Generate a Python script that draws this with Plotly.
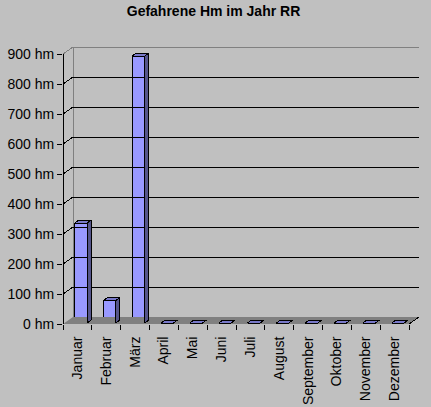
import plotly.graph_objects as go

# ---- data ----
months = ["Januar", "Februar", "März", "April", "Mai", "Juni", "Juli",
          "August", "September", "Oktober", "November", "Dezember"]
values = [333, 75, 890, 0, 0, 0, 0, 0, 0, 0, 0, 0]
y_ticks = [0, 100, 200, 300, 400, 500, 600, 700, 800, 900]
y_tick_labels = [f"{v} hm" for v in y_ticks]
title_text = "Gefahrene Hm im Jahr RR"

# ---- geometry (style) ----
PX_X = 12 / 346.0      # category units per pixel
PX_Y = 900 / 270.0     # hm per pixel
WALL_DX, WALL_DY = 10 * PX_X, 7 * PX_Y
BAR_W = 12.5 * PX_X
BAR_DX, BAR_DY = 4 * PX_X, 3 * PX_Y
BAR_XOFF = 3.4 * PX_X
BAR_BASE = 1 * PX_Y
YMAX = y_ticks[-1]
N = len(months)
XL, XR = -0.5, N - 0.5

FRONT = "#9999ff"
TOP = "#7878c8"
SIDE = "#55558a"
FLOOR = "#808080"
WALLLINE = "#808080"
BG = "#c0c0c0"
FONT = "Liberation Sans, Arial, sans-serif"

fig = go.Figure()

# floor
fig.add_trace(go.Scatter(
    x=[XL, XR, XR + WALL_DX, XL + WALL_DX, XL],
    y=[0, 0, WALL_DY, WALL_DY, 0],
    fill="toself", fillcolor=FLOOR, mode="lines", line=dict(width=0),
    hoverinfo="skip"))

# back wall border (gray) incl. top-left diagonal
bx, by = [], []
bx += [XL + WALL_DX, XL + WALL_DX, XR + WALL_DX, XR + WALL_DX, None]
by += [WALL_DY, YMAX + WALL_DY, YMAX + WALL_DY, WALL_DY, None]
bx += [XL, XL + WALL_DX, None]
by += [YMAX, YMAX + WALL_DY, None]
fig.add_trace(go.Scatter(x=bx, y=by, mode="lines",
                         line=dict(color=WALLLINE, width=1), hoverinfo="skip",
                         cliponaxis=False))

# gridlines on back wall + left-wall diagonals (black)
gx, gy = [], []
for v in y_ticks[1:-1]:
    gx += [XL, XL + WALL_DX, XR + WALL_DX, None]
    gy += [v, v + WALL_DY, v + WALL_DY, None]
fig.add_trace(go.Scatter(x=gx, y=gy, mode="lines",
                         line=dict(color="black", width=1), hoverinfo="skip",
                         cliponaxis=False))

# axis lines (black): y axis, x axis front edge, right floor diagonal
ax_x = [XL, XL, None, XL, XR, XR + WALL_DX]
ax_y = [YMAX, 0, None, 0, 0, WALL_DY]
fig.add_trace(go.Scatter(x=ax_x, y=ax_y, mode="lines",
                         line=dict(color="black", width=1), hoverinfo="skip",
                         cliponaxis=False))

# bars: front faces
bar_x = [i + BAR_XOFF for i in range(N)]
fig.add_trace(go.Bar(x=bar_x, y=values, base=BAR_BASE, width=BAR_W,
                     marker=dict(color=FRONT, line=dict(color="black", width=1)),
                     hoverinfo="skip"))

# side and top faces
sx, sy, tx, ty = [], [], [], []
for xc, v in zip(bar_x, values):
    x0, x1 = xc - BAR_W / 2, xc + BAR_W / 2
    top = BAR_BASE + v
    if v > 0:
        sx += [x1, x1, x1 + BAR_DX, x1 + BAR_DX, x1, None]
        sy += [BAR_BASE, top, top + BAR_DY, BAR_BASE + BAR_DY, BAR_BASE, None]
    tx += [x0, x1, x1 + BAR_DX, x0 + BAR_DX, x0, None]
    ty += [top, top, top + BAR_DY, top + BAR_DY, top, None]
fig.add_trace(go.Scatter(x=sx, y=sy, fill="toself", fillcolor=SIDE, mode="lines",
                         line=dict(color="black", width=1), hoverinfo="skip"))
fig.add_trace(go.Scatter(x=tx, y=ty, fill="toself", fillcolor=TOP, mode="lines",
                         line=dict(color="black", width=1), hoverinfo="skip"))

# dummy trace for label axis
fig.add_trace(go.Scatter(x=[0], y=[0], xaxis="x2", mode="markers",
                         marker=dict(opacity=0), hoverinfo="skip"))

xrange = [XL, XR + WALL_DX]
fig.update_layout(
    width=431, height=407,
    margin=dict(l=63, r=12, t=47, b=83, autoexpand=False),
    paper_bgcolor=BG, plot_bgcolor=BG,
    showlegend=False,
    barmode="overlay",
    hovermode=False,
    font=dict(family=FONT, size=14, color="black"),
    title=dict(text="<b>" + title_text + "</b>", x=213.5 / 431, xref="container",
               xanchor="center", y=1 - 11.5 / 407, yref="container",
               yanchor="middle", font=dict(size=14, family=FONT, color="black")),
    xaxis=dict(range=xrange, tickmode="array",
               tickvals=[i - 0.5 for i in range(N + 1)],
               ticks="outside", ticklen=5, tickcolor="black", showticklabels=False,
               showgrid=False, zeroline=False, showline=False, fixedrange=True,
               automargin=False),
    xaxis2=dict(range=xrange, overlaying="x", anchor="y", side="bottom",
                tickmode="array", tickvals=list(range(N)), ticktext=months,
                tickangle=-90, ticks="outside", ticklen=6, tickcolor="rgba(0,0,0,0)",
                showgrid=False, zeroline=False, showline=False, automargin=False,
                tickfont=dict(size=14, family=FONT, color="black")),
    yaxis=dict(range=[0, YMAX + WALL_DY], tickmode="array", tickvals=y_ticks,
               ticktext=y_tick_labels, ticks="outside", ticklen=5, tickcolor="black",
               showgrid=False, zeroline=False, showline=False, automargin=False,
               tickfont=dict(size=14, family=FONT, color="black")),
)

post = ("document.body.style.margin='0';document.body.style.overflow='hidden';"
        "document.querySelectorAll('.scatterlayer .js-line, .barlayer path')"
        ".forEach(function(p){p.style.shapeRendering='crispEdges';});")
fig.write_html("out.html", config={"displayModeBar": False}, post_script=post)
